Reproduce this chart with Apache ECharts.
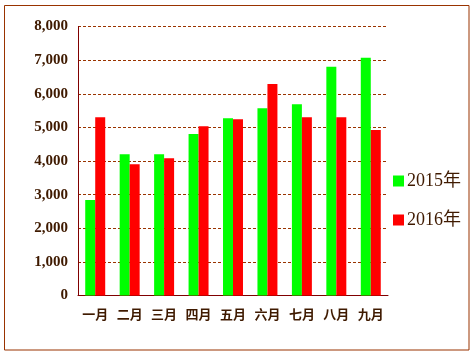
<!DOCTYPE html>
<html><head><meta charset="utf-8">
<script src="https://cdn.jsdelivr.net/npm/echarts@6/dist/echarts.min.js"></script>
<style>html,body{margin:0;padding:0;background:#fff}#c{width:474px;height:355px}</style>
</head><body><div id="c"></div>
<script>
const categories = ['一月','二月','三月','四月','五月','六月','七月','八月','九月'];
const series2015 = [2840, 4200, 4200, 4800, 5270, 5570, 5690, 6800, 7070];
const series2016 = [5300, 3900, 4080, 5030, 5240, 6290, 5300, 5300, 4920];
const yTicks = {min: 0, max: 8000, interval: 1000};

const txt = {color: '#3f1a00', fontFamily: 'Liberation Serif, "Noto Sans CJK SC", serif', fontWeight: 'bold', textShadowColor: 'rgba(150,60,0,0.5)', textShadowOffsetX: 1, textShadowOffsetY: 1, textShadowBlur: 0};
const chart = echarts.init(document.getElementById('c'));
chart.setOption({
  animation: false,
  backgroundColor: '#fff',
  graphic: [{type: 'rect', shape: {x: 4.5, y: 5.5, width: 464.5, height: 344.5}, style: {fill: 'none', stroke: '#993300', lineWidth: 1}, z: -1}],
  grid: {left: 78, right: 86, top: 26.5, bottom: 59.5},
  legend: {
    orient: 'vertical', left: 393, top: 172, padding: 0, itemWidth: 11, itemHeight: 11, itemGap: 21,
    icon: 'rect',
    textStyle: Object.assign({}, txt, {fontSize: 18, fontWeight: 'normal', padding: [0, 0, 0, -2]}),
    data: ['2015年', '2016年']
  },
  xAxis: {
    type: 'category', data: categories,
    axisLine: {lineStyle: {color: '#800000', width: 1}},
    axisTick: {inside: true, length: 6, lineStyle: {color: '#800000'}},
    axisLabel: Object.assign({}, txt, {fontSize: 13, margin: 14})
  },
  yAxis: {
    type: 'value', min: yTicks.min, max: yTicks.max, interval: yTicks.interval,
    axisLine: {show: true, lineStyle: {color: '#800000', width: 1}},
    axisTick: {show: false},
    splitLine: {lineStyle: {color: '#993300', type: [3, 2], width: 1}},
    axisLabel: Object.assign({}, txt, {fontSize: 15, margin: 10, formatter: v => v.toLocaleString('en-US')})
  },
  series: [
    {name: '2015年', type: 'bar', data: series2015, itemStyle: {color: '#00ff00'}, barGap: '0%', barCategoryGap: '42%'},
    {name: '2016年', type: 'bar', data: series2016, itemStyle: {color: '#ff0000'}, barGap: '0%', barCategoryGap: '42%'}
  ]
});
</script></body></html>
